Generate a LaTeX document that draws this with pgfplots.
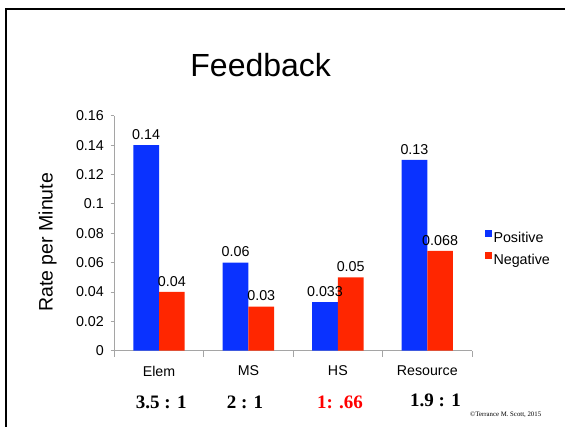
\documentclass[border=0pt]{standalone}
\usepackage{pgfplots}
\pgfplotsset{compat=1.18}
\usepackage{fontspec}
\setmainfont{Liberation Sans}
\newfontfamily\timesfont{Liberation Serif}
\definecolor{barblue}{RGB}{10,50,255}
\definecolor{barred}{RGB}{255,38,0}
\definecolor{axgray}{RGB}{165,165,165}
\begin{document}
\begin{tikzpicture}
\useasboundingbox (0pt,0pt) rectangle (565pt,-426pt);
\clip (0pt,0pt) rectangle (565pt,-426pt);
\draw[line width=2.2pt] (6pt,-440pt) -- (6pt,-9pt) -- (580pt,-9pt);
\node[font=\fontsize{32}{38}\selectfont, anchor=base, inner sep=0pt] at (260.7pt,-76pt) {Feedback};
\begin{axis}[
  at={(114.3pt,-350.7pt)}, anchor=south west,
  scale only axis, width=357.7pt, height=235pt,
  ybar=0pt, bar width=25.7pt,
  xmin=-0.5, xmax=3.5, ymin=0, ymax=0.16,
  axis x line*=bottom, axis y line*=left,
  axis line style={axgray, line width=0.8pt},
  xtick={0,1,2,3},
  xticklabels={Elem,MS,HS,Resource},
  minor xtick={-0.5,0.5,1.5,2.5,3.5},
  major x tick style={draw=none},
  minor x tick style={axgray, line width=0.8pt},
  minor tick length=6pt,
  major tick length=3.7pt,
  tick align=outside,
  ytick={0,0.02,0.04,0.06,0.08,0.1,0.12,0.14,0.16},
  yticklabels={0,0.02,0.04,0.06,0.08,0.1,0.12,0.14,0.16},
  y tick style={axgray, line width=0.8pt},
  yticklabel style={font=\fontsize{14.3}{16}\selectfont, xshift=-3.2pt},
  xticklabel style={font=\fontsize{14.2}{16}\selectfont, yshift=-8pt},
  ylabel={Rate per Minute},
  ylabel style={font=\fontsize{19.5}{23}\selectfont, at={(axis description cs:-0.2126,0.461)}, anchor=north, inner sep=0pt, rotate=0},
  point meta=explicit symbolic,
  nodes near coords,
  every node near coord/.append style={font=\fontsize{14.3}{16}\selectfont, anchor=south, yshift=2pt, black},
  legend style={at={(1.0355,0.43)}, anchor=west, draw=none, fill=none, inner sep=0pt,
    font=\fontsize{14.3}{16}\selectfont, row sep=4.5pt,
    nodes={inner sep=2pt, text height=10pt, text depth=3pt}},
  legend cell align=left,
  legend image code/.code={\fill[#1] (0pt,2.4pt) rectangle (6.6pt,9.4pt);},
]
\addplot[fill=barblue, draw=none] coordinates {(0,0.14) [0.14] (1,0.06) [0.06] (2,0.033) [0.033] (3,0.13) [0.13]};
\addplot[fill=barred, draw=none] coordinates {(0,0.04) [0.04] (1,0.03) [0.03] (2,0.05) [0.05] (3,0.068) [0.068]};
\legend{Positive,Negative}
\end{axis}
\node[font=\timesfont\bfseries\fontsize{19}{22}\selectfont, anchor=base, inner sep=0pt] at (161.3pt,-408.3pt) {3.5 : 1};
\node[font=\timesfont\bfseries\fontsize{19}{22}\selectfont, anchor=base, inner sep=0pt] at (245pt,-408.3pt) {2 : 1};
\node[font=\timesfont\bfseries\fontsize{19}{22}\selectfont, anchor=base, inner sep=0pt, text=red] at (340pt,-408.3pt) {1: .66};
\node[font=\timesfont\bfseries\fontsize{19}{22}\selectfont, anchor=base, inner sep=0pt] at (435.5pt,-406.7pt) {1.9 : 1};
\node[font=\timesfont\fontsize{6.8}{8}\selectfont, anchor=base west, inner sep=0pt] at (470pt,-416pt) {©Terrance M. Scott, 2015};
\end{tikzpicture}
\end{document}
